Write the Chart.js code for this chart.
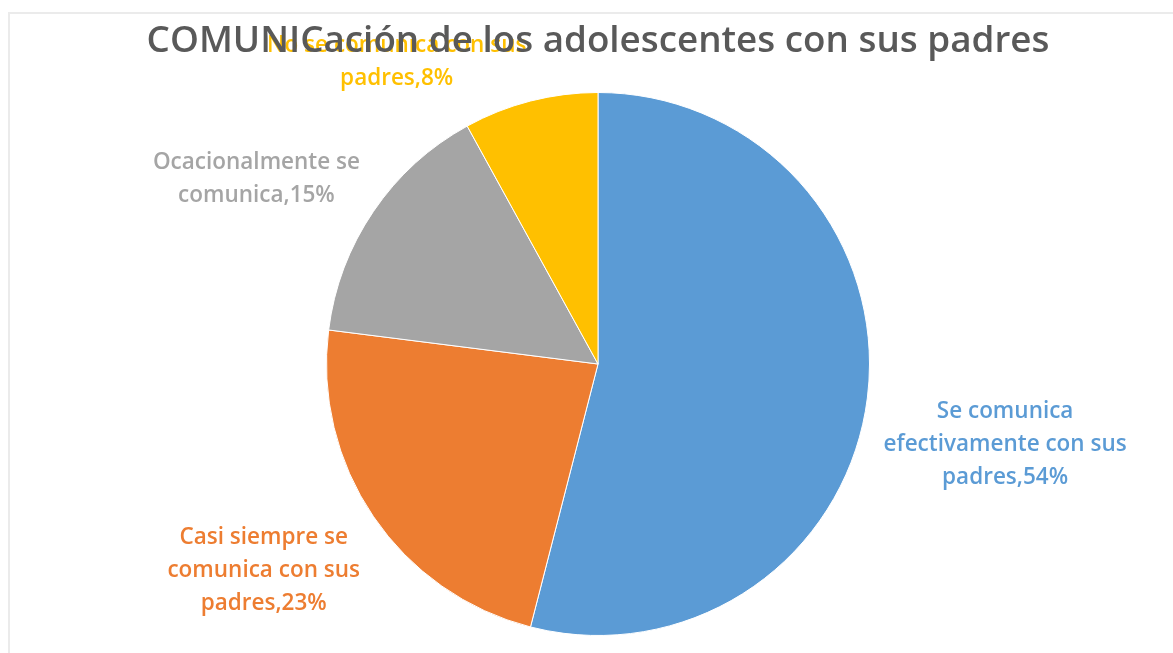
<!DOCTYPE html>
<html>
<head>
<meta charset="utf-8">
<script src="https://cdn.jsdelivr.net/npm/chart.js@4"></script>
<style>
  html, body { margin: 0; padding: 0; background: #fff; }
  #wrap { position: relative; width: 1173px; height: 653px; overflow: hidden; }
  #frame { position: absolute; left: 8px; top: 12px; right: -4px; bottom: -4px;
           border-top: 2px solid #ebebeb; border-left: 2px solid #ebebeb; }
  canvas { position: absolute; left: 0; top: 0; }
</style>
</head>
<body>
<div id="wrap">
  <div id="frame"></div>
  <canvas id="c" width="1173" height="653"></canvas>
</div>
<script>
// Data
const title = 'COMUNICación de los adolescentes con sus padres';
const categories = [
  ['Se comunica', 'efectivamente con sus', 'padres'],
  ['Casi siempre se', 'comunica con sus', 'padres'],
  ['Ocacionalmente se', 'comunica'],
  ['No se comunica con sus', 'padres'],
];
const values = [54, 23, 15, 8];
const colors = ['#5B9BD5', '#ED7D31', '#A5A5A5', '#FFC000'];

const FONT = '"Open Sans", "DejaVu Sans", sans-serif';

// Outside-end data labels, placed from each arc's own geometry.
const labelPlugin = {
  id: 'outsideLabels',
  afterDatasetsDraw(chart) {
    const ctx = chart.ctx;
    const meta = chart.getDatasetMeta(0);
    const lineH = 33;
    ctx.save();
    ctx.font = '600 22.5px ' + FONT;
    ctx.textBaseline = 'middle';
    ctx.textAlign = 'center';
    meta.data.forEach((arc, i) => {
      const { x, y, startAngle, endAngle, outerRadius } = arc.getProps(['x', 'y', 'startAngle', 'endAngle', 'outerRadius'], true);
      const mid = (startAngle + endAngle) / 2;
      const ax = x + Math.cos(mid) * outerRadius * 1.06;
      const ay = y + Math.sin(mid) * outerRadius * 1.06;
      const lines = categories[i].slice();
      lines[lines.length - 1] += ',' + values[i] + '%';
      const w = Math.max(...lines.map((l) => ctx.measureText(l).width));
      const h = lines.length * lineH;
      const cx = ax >= x ? ax + w / 2 : ax - w / 2;
      // labels above the centre hang a little lower, those below sit a little higher
      const top = ay >= y ? ay - lineH * 0.15 : ay - h + lineH * 0.3;
      ctx.fillStyle = colors[i];
      lines.forEach((l, k) => ctx.fillText(l, cx, top + lineH * (k + 0.5)));
    });
    ctx.restore();
  },
};

// Title drawn last so it sits over the small label, as in the reference.
const titlePlugin = {
  id: 'topTitle',
  afterDraw(chart) {
    const ctx = chart.ctx;
    ctx.save();
    ctx.font = '600 36.8px ' + FONT;
    ctx.fillStyle = '#595959';
    ctx.textAlign = 'center';
    ctx.textBaseline = 'middle';
    ctx.fillText(title, 598, 42);
    ctx.restore();
  },
};

new Chart(document.getElementById('c'), {
  type: 'pie',
  data: {
    labels: categories.map((c) => c.join(' ')),
    datasets: [{
      data: values,
      backgroundColor: colors,
      borderColor: '#ffffff',
      borderWidth: 1,
    }],
  },
  options: {
    responsive: false,
    animation: false,
    layout: { padding: { top: 92, bottom: 17, left: 23, right: 0 } },
    plugins: { legend: { display: false }, tooltip: { enabled: false }, title: { display: false } },
  },
  plugins: [labelPlugin, titlePlugin],
});
</script>
</body>
</html>
